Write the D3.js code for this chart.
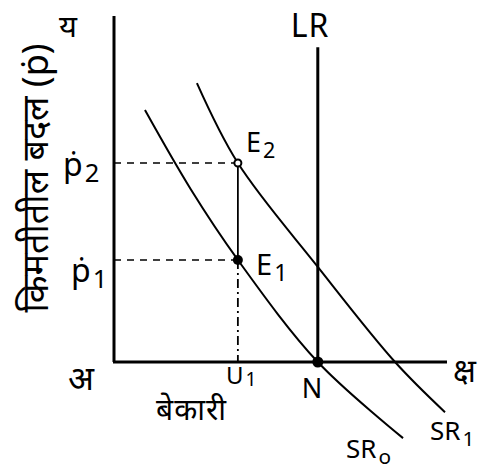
<!DOCTYPE html>
<html>
<head>
<meta charset="utf-8">
<script src="https://d3js.org/d3.v7.min.js"></script>
<style>
body { margin: 0; background: #fff; }
text { fill: #000; font-family: "Noto Sans", "DejaVu Sans", sans-serif; }
</style>
</head>
<body>
<div id="chart"></div>
<script>
// curve points (unemployment, inflation)
var sr0 = [[0.93, 7.28], [2.3, 5.0], [3.72, 2.95], [6.12, 0], [8.68, -2.2]];
var sr1 = [[2.49, 8.06], [3.72, 5.75], [6.12, 2.75], [8.44, 0], [9.94, -1.45]];
var natural = 6.12, lrTop = 9.1;
var u1 = 3.72, p1 = 2.95, p2 = 5.75;
var yTop = 10, xEnd = 10;

var width = 489, height = 470;
var x = d3.scaleLinear().domain([0, 10]).range([114, 447]);
var y = d3.scaleLinear().domain([0, 10]).range([362, 16]);

var svg = d3.select("#chart").append("svg")
    .attr("width", width)
    .attr("height", height);

// axes
svg.append("line")
    .attr("x1", x(0)).attr("y1", y(0))
    .attr("x2", x(0)).attr("y2", y(yTop))
    .attr("stroke", "#000").attr("stroke-width", 3);
svg.append("line")
    .attr("x1", x(0) - 1).attr("y1", y(0))
    .attr("x2", x(xEnd)).attr("y2", y(0))
    .attr("stroke", "#000").attr("stroke-width", 3);

// long run line
svg.append("line")
    .attr("x1", x(natural)).attr("y1", y(0))
    .attr("x2", x(natural)).attr("y2", y(lrTop))
    .attr("stroke", "#000").attr("stroke-width", 3);

// dashed guides
[p1, p2].forEach(function(p) {
  svg.append("line")
      .attr("x1", x(0)).attr("y1", y(p))
      .attr("x2", x(u1)).attr("y2", y(p))
      .attr("stroke", "#000").attr("stroke-width", 1.6)
      .attr("stroke-dasharray", "7,6");
});
svg.append("line")
    .attr("x1", x(u1)).attr("y1", y(p2))
    .attr("x2", x(u1)).attr("y2", y(p1))
    .attr("stroke", "#000").attr("stroke-width", 1.8);
svg.append("line")
    .attr("x1", x(u1)).attr("y1", y(p1))
    .attr("x2", x(u1)).attr("y2", y(0))
    .attr("stroke", "#000").attr("stroke-width", 1.8)
    .attr("stroke-dasharray", "9,4,2,4");

// short run curves
var line = d3.line()
    .x(function(d) { return x(d[0]); })
    .y(function(d) { return y(d[1]); })
    .curve(d3.curveCatmullRom);
[sr0, sr1].forEach(function(c) {
  svg.append("path")
      .attr("d", line(c))
      .attr("fill", "none")
      .attr("stroke", "#000")
      .attr("stroke-width", 2);
});

// points
svg.append("circle").attr("cx", x(u1)).attr("cy", y(p1)).attr("r", 5).attr("fill", "#000");
svg.append("circle").attr("cx", x(natural)).attr("cy", y(0)).attr("r", 5.5).attr("fill", "#000");
svg.append("circle").attr("cx", x(u1)).attr("cy", y(p2)).attr("r", 3.5)
    .attr("fill", "#fff").attr("stroke", "#000").attr("stroke-width", 2);

// labels
function label(t, px, py, size, anchor) {
  return svg.append("text")
      .attr("x", px).attr("y", py)
      .attr("font-size", size)
      .attr("text-anchor", anchor || "start")
      .text(t);
}
label("य", 59, 37, 31);
label("अ", 68, 390, 34);
label("क्ष", 453, 382, 32);
label("LR", 310, 37, 32, "middle").attr("letter-spacing", 1);
label("N", 312, 398, 27, "middle");
label("बेकारी", 156, 420, 30).attr("letter-spacing", 1);

function sub(main, s, px, py, size, d) {
  var t = label(main, px, py, size);
  t.append("tspan").attr("font-size", size * 0.8).attr("dy", d || 6).attr("dx", 2).text(s);
  return t;
}
sub("E", "2", 246, 152, 27);
sub("E", "1", 256, 275, 29);
sub("U", "1", 226, 384, 24, 2);
sub("SR", "o", 346, 458, 26);
sub("SR", "1", 430, 440, 26);
sub("ṗ", "2", 63, 176, 32);
sub("ṗ", "1", 71, 282, 32);

svg.append("text")
    .attr("transform", "translate(48,178) rotate(-90)")
    .attr("font-size", 36)
    .attr("text-anchor", "middle")
    .text("किमतीतील बदल (ṗ)");
</script>
</body>
</html>
